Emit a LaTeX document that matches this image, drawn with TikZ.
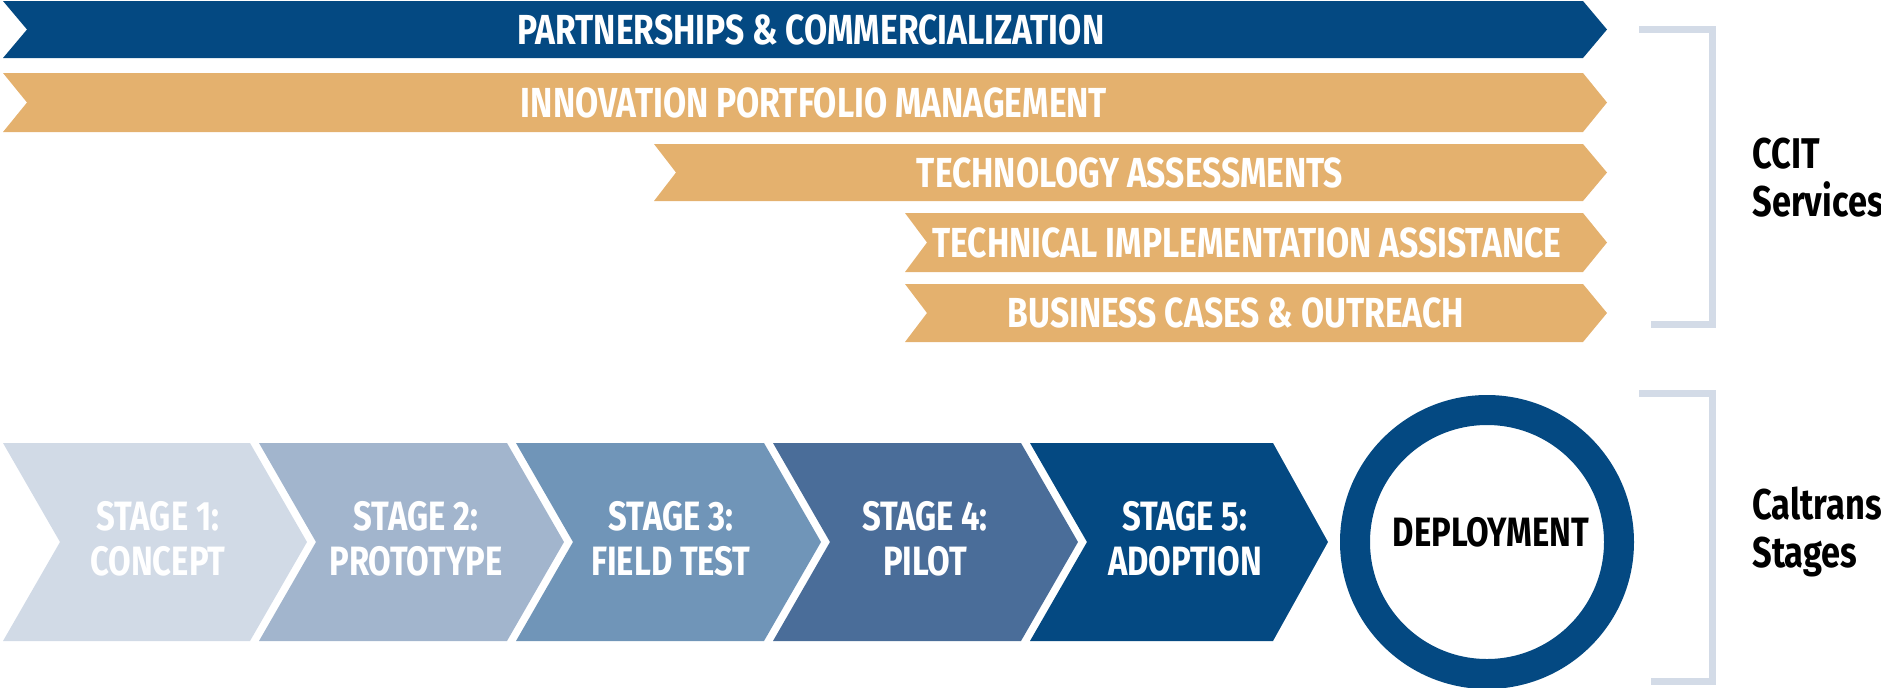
\documentclass[tikz,border=0pt]{standalone}
\usepackage{fontspec}
\newfontfamily\condfont[FakeStretch=0.8]{Fira Sans}
\usetikzlibrary{positioning}

\definecolor{ccitnavy}{RGB}{4,73,130}
\definecolor{ccitgold}{RGB}{228,177,110}
\definecolor{stageone}{RGB}{209,218,230}
\definecolor{stagetwo}{RGB}{162,181,205}
\definecolor{stagethree}{RGB}{112,149,184}
\definecolor{stagefour}{RGB}{74,109,153}
\definecolor{bracketgrey}{RGB}{211,219,231}

\begin{document}
\begin{tikzpicture}[
    x=0.5pt, y=-0.5pt,
    lead/.style={fill=ccitnavy},
    service/.style={fill=ccitgold},
    bannertext/.style={text=white, inner sep=0pt, font=\condfont\bfseries\fontsize{21}{24}\selectfont},
    stagetext/.style={text=white, align=center, inner sep=0pt, font=\condfont\bfseries\fontsize{20.5}{22.5}\selectfont},
    goal/.style={circle, draw=ccitnavy, line width=15pt, fill=white, minimum size=132pt, inner sep=0pt},
    sidelabel/.style={anchor=west, align=left, inner sep=0pt, text=black, font=\condfont\bfseries\fontsize{21.5}{24}\selectfont},
    bracket/.style={draw=bracketgrey, line width=3.5pt}
]
    \useasboundingbox (0,0) rectangle (1881,687);

    % CCIT services
    \fill[lead] (3,1) -- (1583,1) -- (1607,29.5) -- (1583,58) -- (3,58) -- (27,29.5) -- cycle;
    \node[bannertext] (partner) at (811,30) {PARTNERSHIPS \& COMMERCIALIZATION};

    \fill[service] (3,73) -- (1583,73) -- (1607,102.5) -- (1583,132) -- (3,132) -- (27,102.5) -- cycle;
    \node[bannertext] (portfolio) at (814,103) {INNOVATION PORTFOLIO MANAGEMENT};

    \fill[service] (654,144) -- (1583,144) -- (1607,172.5) -- (1583,201) -- (654,201) -- (676,172.5) -- cycle;
    \node[bannertext] (assess) at (1130,173) {TECHNOLOGY ASSESSMENTS};

    \fill[service] (905,213) -- (1583,213) -- (1607,242.5) -- (1583,272) -- (905,272) -- (927,242.5) -- cycle;
    \node[bannertext] (assist) at (1247,243) {TECHNICAL IMPLEMENTATION ASSISTANCE};

    \fill[service] (905,284) -- (1583,284) -- (1607,313) -- (1583,342) -- (905,342) -- (927,313) -- cycle;
    \node[bannertext] (outreach) at (1236,313) {BUSINESS CASES \& OUTREACH};

    \draw[bracket] (1639,29) -- (1712,29) -- (1712,324) -- (1651,324);
    \node[sidelabel] (ccit) at (1752,178) {CCIT\\Services};

    % Caltrans stages
    \fill[stageone] (3,443) -- (250,443) -- (307,542) -- (250,641) -- (3,641) -- (60,542) -- cycle;
    \node[stagetext] (concept) at (158,539) {STAGE 1:\\CONCEPT};

    \fill[stagetwo] (259,443) -- (507,443) -- (564,542) -- (507,641) -- (259,641) -- (316,542) -- cycle;
    \node[stagetext] (prototype) at (416,539) {STAGE 2:\\PROTOTYPE};

    \fill[stagethree] (516,443) -- (764,443) -- (821,542) -- (764,641) -- (516,641) -- (573,542) -- cycle;
    \node[stagetext] (fieldtest) at (671,539) {STAGE 3:\\FIELD TEST};

    \fill[stagefour] (773,443) -- (1021,443) -- (1078,542) -- (1021,641) -- (773,641) -- (830,542) -- cycle;
    \node[stagetext] (pilot) at (925,539) {STAGE 4:\\PILOT};

    \fill[lead] (1030,443) -- (1273,443) -- (1328,542) -- (1273,641) -- (1030,641) -- (1087,542) -- cycle;
    \node[stagetext] (adoption) at (1185,539) {STAGE 5:\\ADOPTION};

    \node[goal] (deploy) at (1487,542) {};
    \node (deploytext) at (1491,532) [text=black, inner sep=0pt, font=\condfont\bfseries\fontsize{20.5}{24}\selectfont] {DEPLOYMENT};

    \draw[bracket] (1639,393) -- (1712,393) -- (1712,681) -- (1651,681);
    \node[sidelabel] (caltrans) at (1752,532) {Caltrans\\Stages};
\end{tikzpicture}
\end{document}
